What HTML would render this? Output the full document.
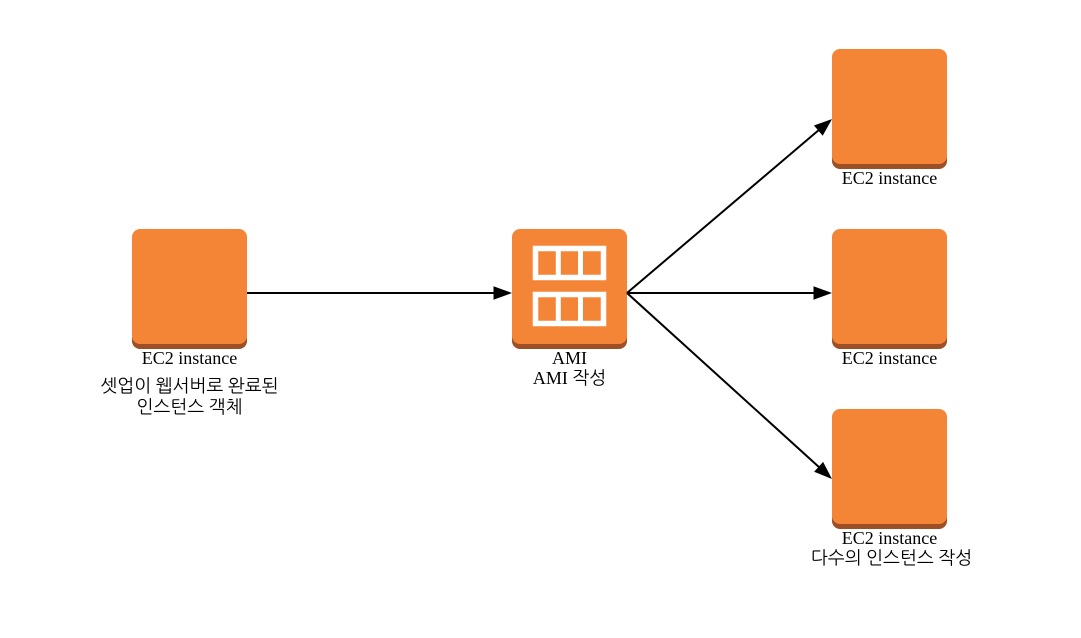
<!DOCTYPE html>
<html><head><meta charset="utf-8"><style>
html,body{margin:0;padding:0;background:#fff;width:1081px;height:638px;overflow:hidden}
svg{display:block}
text{font-family:"Liberation Serif","NanumGothic","Noto Sans CJK KR",serif;font-size:18px;fill:#000;text-anchor:middle}
</style></head><body>
<svg width="1081" height="638" viewBox="0 0 1081 638" xmlns="http://www.w3.org/2000/svg">
<defs>
<g id="b">
<rect x="0" y="40" width="115" height="80" rx="8" fill="#9d5025"/>
<rect x="0" y="0" width="115" height="115" rx="8" fill="#f58536"/>
</g>
</defs>
<use href="#b" x="132" y="229"/>
<use href="#b" x="512" y="229"/>
<use href="#b" x="832" y="49"/>
<use href="#b" x="832" y="229"/>
<use href="#b" x="832" y="409"/>
<g fill="none" stroke="#fff" stroke-width="5.5">
<rect x="535.500" y="248.500" width="68" height="29"/>
<rect x="535.500" y="294.500" width="68" height="29"/>
<path d="M558.300 248v29M580.500 248v29M558.300 294v29M580.500 294v29" stroke-width="5"/>
</g>
<g stroke="#000" stroke-width="2" fill="none">
<path d="M247 293H496"/>
<path d="M627 293H816"/>
<path d="M627 293L820 129"/>
<path d="M627 293L820 468"/>
</g>
<g fill="#000" stroke="#000" stroke-width="1">
<path d="M510.500 293L494 287V299Z"/>
<path d="M830.500 293L814 287V299Z"/>
<path d="M830.900 120L814.800 125.700L822.600 134.900Z"/>
<path d="M830.900 478L823 462.800L815 471.600Z"/>
</g>
<text x="189.500" y="364">EC2 instance</text>
<text x="189.500" y="392">셋업이 웹서버로 완료된</text>
<text x="189.500" y="413">인스턴스 객체</text>
<text x="569.500" y="364">AMI</text>
<text x="569.500" y="384">AMI 작성</text>
<text x="889.500" y="184">EC2 instance</text>
<text x="889.500" y="364">EC2 instance</text>
<text x="889.500" y="544">EC2 instance</text>
<text x="891.500" y="564">다수의 인스턴스 작성</text>
</svg>
</body></html>
